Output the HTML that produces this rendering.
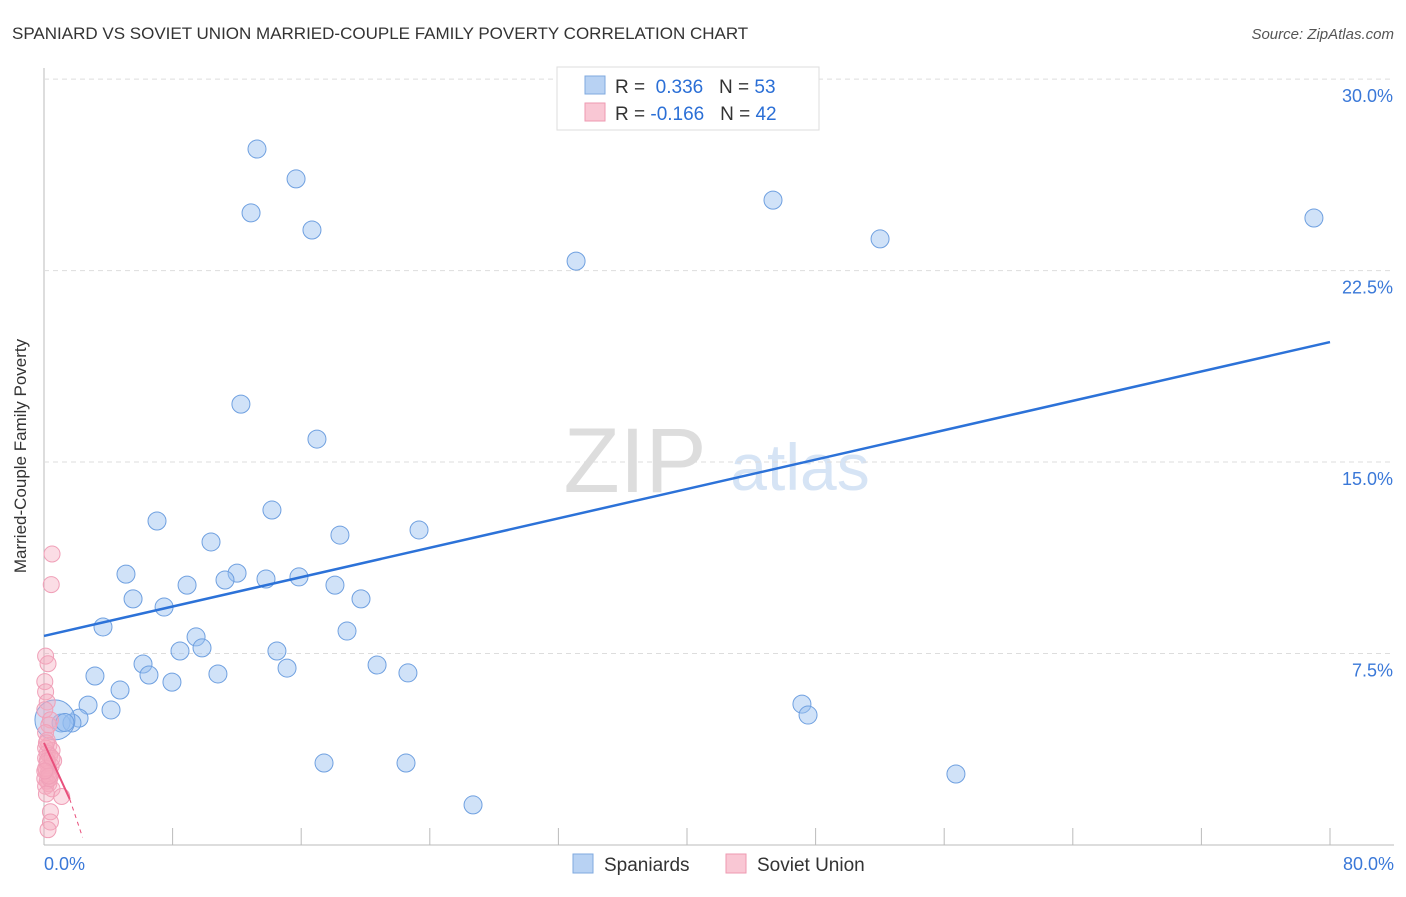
<!DOCTYPE html>
<html><head><meta charset="utf-8"><style>
body{margin:0;background:#fff;font-family:"Liberation Sans",sans-serif}
svg text{font-family:"Liberation Sans",sans-serif}
</style></head><body>
<svg id="c" width="1406" height="892">
<text x="12" y="39" font-size="17" fill="#333">SPANIARD VS SOVIET UNION MARRIED-COUPLE FAMILY POVERTY CORRELATION CHART</text>
<text x="1394" y="39" font-size="15" fill="#555" font-style="italic" text-anchor="end">Source: ZipAtlas.com</text>
<text x="26" y="456" font-size="17" fill="#333" text-anchor="middle" transform="rotate(-90 26 456)">Married-Couple Family Poverty</text>
<text x="635" y="492" font-size="92" fill="#ddd" font-family="Liberation Serif" text-anchor="middle">ZIP</text>
<text x="800" y="490" font-size="66" fill="#d6e4f5" text-anchor="middle">atlas</text>
<g id="grid"></g><g id="marks"></g>
<g>
<rect x="557" y="67" width="262" height="63" fill="#fff" stroke="#ddd"/>
<rect x="585" y="76" width="20" height="18" fill="#b8d2f3" stroke="#7fa9df"/>
<rect x="585" y="103" width="20" height="18" fill="#f9c7d4" stroke="#ee9ab1"/>
<text x="615" y="93" font-size="19" fill="#333">R = <tspan fill="#2b6fd6">&#160;0.336</tspan>&#160;&#160;&#160;N = <tspan fill="#2b6fd6">53</tspan></text>
<text x="615" y="120" font-size="19" fill="#333">R = <tspan fill="#2b6fd6">-0.166</tspan>&#160;&#160;&#160;N = <tspan fill="#2b6fd6">42</tspan></text>
</g>
<g>
<rect x="573" y="854" width="20" height="19" fill="#b8d2f3" stroke="#7fa9df"/>
<text x="604" y="871" font-size="19" fill="#333">Spaniards</text>
<rect x="726" y="854" width="20" height="19" fill="#f9c7d4" stroke="#ee9ab1"/>
<text x="757" y="871" font-size="19" fill="#333">Soviet Union</text>
</g>
</svg>
<script>
const blueX=[13.25,15.68,12.88,16.67,45.35,52.01,79.0,33.1,12.25,16.98,7.03,14.18,23.33,18.41,10.39,5.10,12.01,11.26,13.81,15.86,8.90,18.10,5.54,19.72,7.47,3.67,18.85,9.46,8.46,9.83,14.49,6.16,6.53,15.12,20.72,10.82,22.64,7.96,3.17,4.73,2.74,4.17,2.18,1.06,1.74,47.15,47.53,17.42,22.52,56.73,26.69,0.68,1.3];
const blueY=[27.26,26.09,24.76,24.09,25.26,23.74,24.56,22.87,17.27,15.90,12.69,13.12,12.34,12.14,11.87,10.61,10.65,10.38,10.42,10.50,10.18,10.18,9.64,9.64,9.32,8.54,8.38,8.15,7.60,7.72,7.60,7.09,6.66,6.93,7.05,6.70,6.74,6.38,6.62,6.07,5.48,5.29,4.97,4.78,4.78,5.52,5.09,3.21,3.21,2.78,1.57,4.90,4.8];
const pinkX=[0.5,0.45,0.1,0.25,0.05,0.1,0.2,0.05,0.4,0.3,0.1,0.2,0.3,0.5,0.1,0.2,0.35,0.6,0.1,0.2,0.3,0.45,0.15,0.25,0.4,0.05,0.2,0.3,0.1,0.5,0.15,0.35,1.1,0.4,0.4,0.25,0.1,0.2,0.3,0.15,0.5,0.05];
const pinkY=[11.4,10.2,7.4,7.1,6.4,6.0,5.6,5.3,4.9,4.7,4.4,4.1,3.9,3.7,3.8,3.6,3.5,3.3,3.4,3.2,3.0,3.1,2.9,2.8,2.7,2.6,2.5,2.4,2.3,2.2,2.0,2.6,1.9,1.3,0.9,0.6,3.0,3.3,2.7,4.0,3.4,2.9];
const xTicks=[0,8,16,24,32,40,48,56,64,72,80];
const yTicks=[7.5,15,22.5,30];
const yTickLabels=["7.5%","15.0%","22.5%","30.0%"];
const blueTrend=[8.19,19.7];
const pinkTrend=[4.0,1.8,0.3];
const X=v=>44+v/80*1286, Y=v=>845-v*25.53;
const NS="http://www.w3.org/2000/svg";
function mk(p,t,a){const e=document.createElementNS(NS,t);for(const k in a)e.setAttribute(k,a[k]);p.appendChild(e);return e;}
const g=document.getElementById('grid'),m=document.getElementById('marks');
let e=mk(g,'line',{x1:44,x2:44,y1:68,y2:845,stroke:'#bbb'});

e=mk(g,'line',{x1:44,x2:1394,y1:845,y2:845,stroke:'#bbb'});

yTicks.forEach((t,i)=>{let l=mk(g,'line',{x1:44,x2:1394,y1:Y(t),y2:Y(t),stroke:'#ddd','stroke-dasharray':'5,4'});

let tx=mk(g,'text',{x:1393,y:Y(t)+23,'font-size':18,fill:'#3a78d8','text-anchor':'end'});tx.textContent=yTickLabels[i];
});
xTicks.forEach(t=>{let l=mk(g,'line',{x1:X(t),x2:X(t),y1:828,y2:845,stroke:'#bbb'});
});
[[0,'0.0%','start',44],[80,'80.0%','end',1394]].forEach(a=>{let tx=mk(g,'text',{x:a[3],y:870,'font-size':18,fill:'#3a78d8','text-anchor':a[2]});tx.textContent=a[1];
});
blueX.forEach((v,i)=>{let c=mk(m,'circle',{cx:X(v),cy:Y(blueY[i]),r:i==51?20:9,fill:'rgba(150,190,240,0.45)',stroke:'#6fa0e0','stroke-width':1});
});
pinkX.forEach((v,i)=>{let c=mk(m,'circle',{cx:X(v),cy:Y(pinkY[i]),r:8,fill:'rgba(245,170,190,0.4)',stroke:'#f0a0b8','stroke-width':1});
});
e=mk(m,'line',{x1:X(0),x2:X(80),y1:Y(blueTrend[0]),y2:Y(blueTrend[1]),stroke:'#2c72d8','stroke-width':2.5});

e=mk(m,'line',{x1:X(0),x2:X(1.6),y1:Y(pinkTrend[0]),y2:Y(pinkTrend[1]),stroke:'#e8507c','stroke-width':2});

e=mk(m,'line',{x1:X(1.6),x2:X(2.4),y1:Y(pinkTrend[1]),y2:Y(pinkTrend[2]),stroke:'#e8507c','stroke-width':1,'stroke-dasharray':'4,4'});

</script>
</body></html>
